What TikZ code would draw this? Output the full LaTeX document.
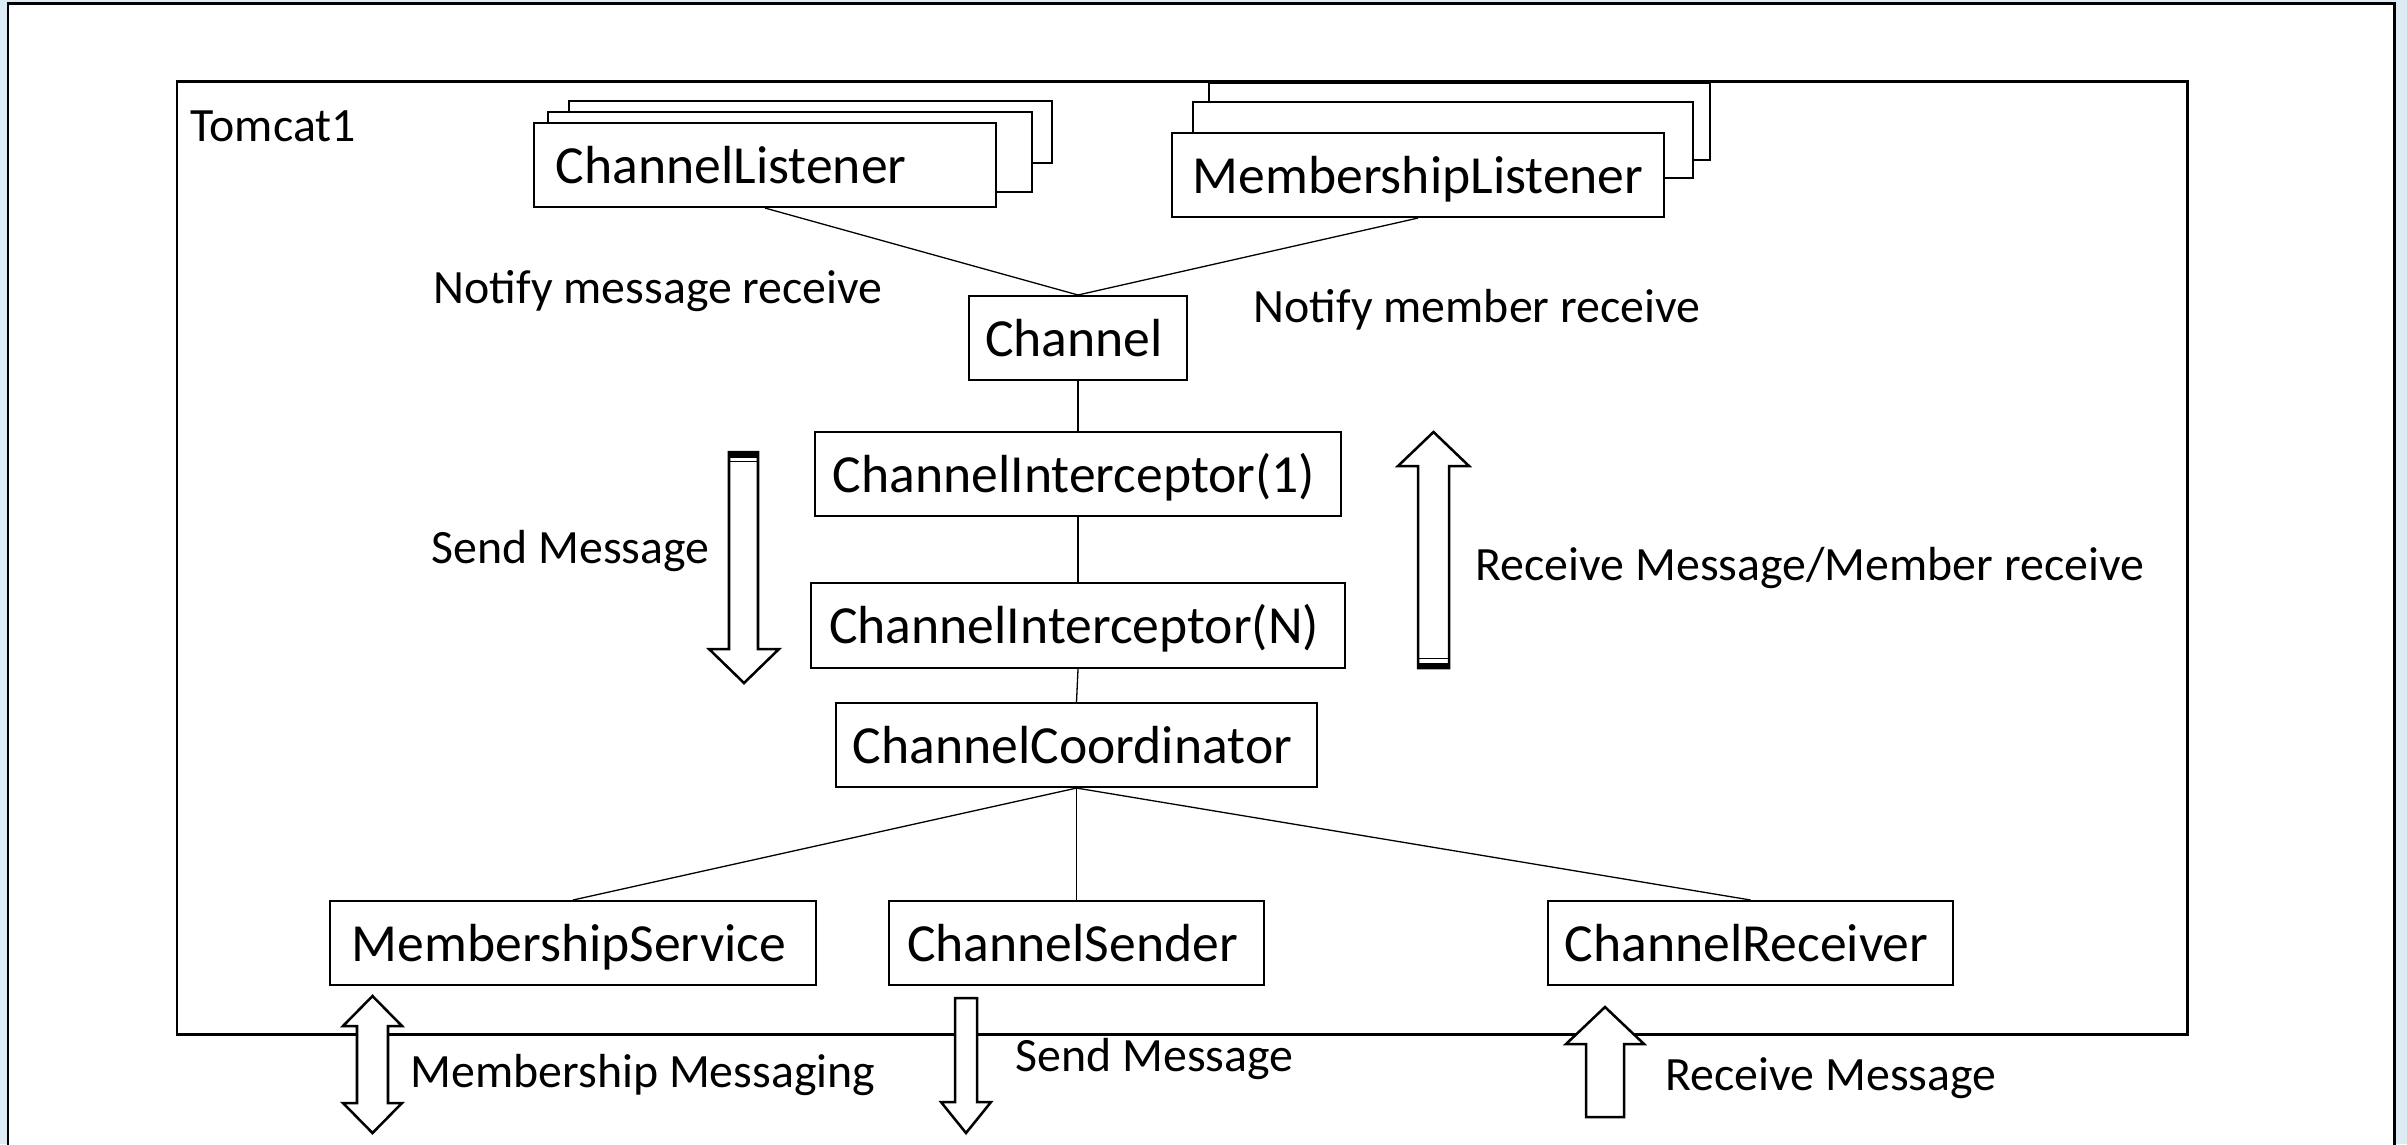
\documentclass[tikz,border=0pt]{standalone}
\usepackage{fontspec}
\setmainfont{Carlito}
\definecolor{slidebg}{RGB}{221,235,245}
\tikzset{
  box/.style={draw, line width=0.57pt, fill=white, inner sep=0pt,
    font=\fontsize{15.25}{18}\selectfont, text height=0.42cm, text depth=0.06cm},
  cbox/.style={box, execute at begin node={\kern-0.08cm}},
  backbox/.style={draw, line width=0.57pt, fill=white, inner sep=0pt},
  lbl/.style={anchor=base west, inner sep=0pt, font=\fontsize{13.6}{16}\selectfont},
  wire/.style={line width=0.37pt},
  fatarrow/.style={draw, fill=white, line width=0.72pt, line join=miter},
}
\begin{document}
\begin{tikzpicture}[x=0.01cm, y=-0.01cm]
\useasboundingbox (0,0) rectangle (2407,1144);
\clip (0,0) rectangle (2407,1144);

% slide background and outer frame
\fill[slidebg] (0,0) rectangle (2407,1144);
\draw[fill=white, line width=0.85pt] (8,1200) -- (8,3) -- (2394,3) -- (2394,1200);

% Tomcat container
\draw[fill=white, line width=0.85pt] (177,81) rectangle (2187,1034);
\node[lbl] (tomcat) at (190,141) {Tomcat1};

% listener stacks
\node[backbox, minimum width=4.83cm, minimum height=0.62cm] (cl3) at (810.5,132) {};
\node[backbox, minimum width=4.84cm, minimum height=0.80cm] (cl2) at (790,152) {};
\node[box, minimum width=4.62cm, minimum height=0.84cm, text width=4.18cm,
      inner xsep=0.22cm, align=left] (cl) at (765,165) {ChannelListener};

\node[backbox, minimum width=5.01cm, minimum height=0.77cm] (ml3) at (1459.5,121.5) {};
\node[backbox, minimum width=5.00cm, minimum height=0.76cm] (ml2) at (1443,140) {};
\node[box, minimum width=4.92cm, minimum height=0.84cm, text width=4.50cm,
      inner xsep=0.21cm, align=left] (ml) at (1418,175) {MembershipListener};

% channel stack
\node[cbox, minimum width=2.18cm, minimum height=0.84cm] (ch) at (1078,338) {Channel};
\node[cbox, minimum width=5.26cm, minimum height=0.84cm] (ci1) at (1078,474) {ChannelInterceptor(1)};
\node[cbox, minimum width=5.34cm, minimum height=0.85cm] (cin) at (1078,625.5) {ChannelInterceptor(N)};
\node[cbox, minimum width=4.81cm, minimum height=0.84cm] (cc) at (1076.5,745) {ChannelCoordinator};

\node[cbox, minimum width=4.86cm, minimum height=0.84cm] (ms) at (573,943) {MembershipService};
\node[cbox, minimum width=3.75cm, minimum height=0.84cm] (cs) at (1076.5,943) {ChannelSender};
\node[cbox, minimum width=4.05cm, minimum height=0.84cm] (cr) at (1750.5,943) {ChannelReceiver};

% connectors
\draw[wire] (cl.south) -- (ch.north);
\draw[wire] (ml.south) -- (ch.north);
\draw[wire] (ch.south) -- (ci1.north);
\draw[wire] (ci1.south) -- (cin.north);
\draw[wire] (cin.south) -- (cc.north);
\draw[wire] (cc.south) -- (ms.north);
\draw[wire] (cc.south) -- (cs.north);
\draw[wire] (cc.south) -- (cr.north);

% labels
\node[lbl] (nmr) at (433,303) {Notify message receive};
\node[lbl] (nmb) at (1253,322) {Notify member receive};
\node[lbl] (sm1) at (431,563) {Send Message};
\node[lbl] (rmm) at (1475,580) {Receive Message/Member receive};
\node[lbl] (mm) at (410,1087) {Membership Messaging};
\node[lbl] (sm2) at (1015,1071) {Send Message};
\node[lbl] (rm) at (1665,1090) {Receive Message};

% striped flow arrows
\draw[fatarrow] (729,452) -- (758,452) -- (758,649) -- (779,649) -- (744,683)
  -- (709,649) -- (729,649) -- cycle;
\fill (729,452) rectangle (758,457.5);
\draw[line width=0.3pt] (729,461.5) -- (758,461.5);

\draw[fatarrow] (1418,668) -- (1418,466) -- (1398,466) -- (1433.5,432) -- (1469,466)
  -- (1449,466) -- (1449,668) -- cycle;
\fill (1418,662.5) rectangle (1449,668);
\draw[line width=0.3pt] (1418,658.5) -- (1449,658.5);

% external traffic arrows
\draw[fatarrow] (357,1026) -- (343,1026) -- (372.5,996) -- (402,1026) -- (388,1026)
  -- (388,1103) -- (402,1103) -- (372.5,1133) -- (343,1103) -- (357,1103) -- cycle;
\draw[fatarrow] (955,998) -- (977,998) -- (977,1102) -- (991,1102) -- (966,1133)
  -- (941,1102) -- (955,1102) -- cycle;
\draw[fatarrow] (1586,1117) -- (1586,1044) -- (1566,1044) -- (1605,1007) -- (1644,1044)
  -- (1624,1044) -- (1624,1117) -- cycle;
\end{tikzpicture}
\end{document}
